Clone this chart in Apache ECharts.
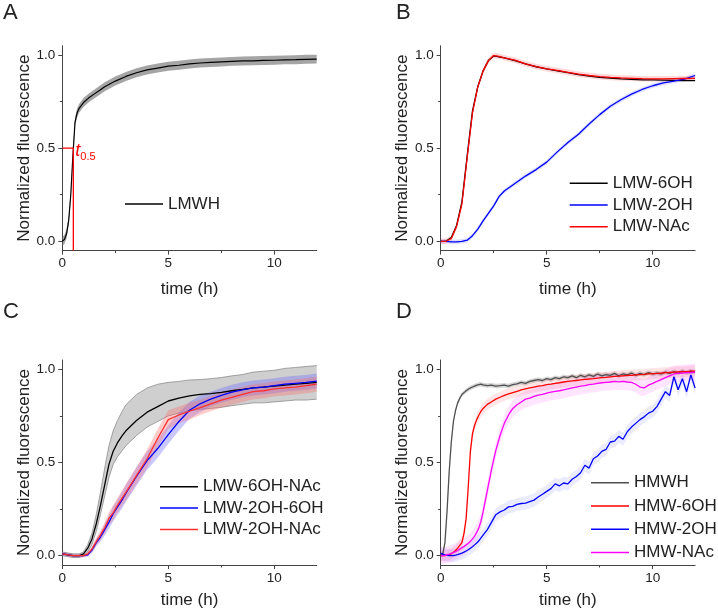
<!DOCTYPE html>
<html><head><meta charset="utf-8">
<script src="https://cdn.jsdelivr.net/npm/echarts@6/dist/echarts.min.js"></script>
<style>html,body{margin:0;padding:0;background:#fff}#c{width:718px;height:612px}</style>
</head><body><div id="c"></div>
<script>
// ---------- axes ----------
const xRange = [0, 12];
const yRange = [-0.05, 1.05];
const xTicks = [0, 5, 10];
const xMinor = [2.5, 7.5];
const yTicks = [0, 0.5, 1];
const yMinor = [0.25, 0.75];
const panelLetters = ['A', 'B', 'C', 'D'];
const xName = 'time (h)';
const yName = 'Normalized fluorescence';

// ---------- panel A ----------
const tA = [0,0.1,0.2,0.3,0.4,0.5,0.6,0.7,0.8,1.0,1.25,1.5,1.75,2,2.5,3,3.5,4,4.5,5,5.5,6,6.5,7,7.5,8,8.5,9,9.5,10,10.5,11,11.5,12];
const lmwh = [0,0.01,0.04,0.11,0.25,0.46,0.64,0.69,0.715,0.745,0.77,0.79,0.81,0.83,0.86,0.885,0.905,0.92,0.93,0.94,0.945,0.952,0.957,0.96,0.963,0.966,0.968,0.969,0.971,0.972,0.974,0.975,0.977,0.978];
const lmwhErr = 0.024;
const t05 = 0.52;
const t05Line = [[0, 0.5], [t05, 0.5], [t05, -0.05]];

// ---------- panel B ----------
const tB = [0,0.25,0.5,0.75,1,1.25,1.5,1.75,2,2.25,2.5,2.75,3,3.5,4,4.5,5,5.5,6,6.5,7,7.5,8,8.5,9,9.5,10,10.5,11,11.5,12];
const lmw6OH = [0,0,0.02,0.085,0.21,0.46,0.7,0.83,0.915,0.97,0.995,0.99,0.985,0.97,0.952,0.937,0.925,0.915,0.905,0.895,0.887,0.88,0.876,0.872,0.869,0.867,0.866,0.865,0.864,0.862,0.862];
const lmw2OH = [0,0,-0.003,-0.003,0,0.006,0.03,0.065,0.11,0.15,0.19,0.24,0.27,0.31,0.35,0.385,0.425,0.48,0.53,0.575,0.63,0.68,0.725,0.76,0.79,0.815,0.835,0.85,0.86,0.87,0.89];
const lmwNAc = [0,0,0.015,0.08,0.2,0.45,0.69,0.83,0.915,0.97,0.997,0.993,0.985,0.972,0.953,0.938,0.926,0.917,0.907,0.897,0.89,0.884,0.88,0.877,0.875,0.873,0.872,0.872,0.873,0.874,0.875];
const lmw2OHErr = 0.012;
const lmwNAcErr = 0.015;

// ---------- panel C ----------
const tC = [0,0.5,0.8,1.0,1.2,1.4,1.6,1.8,2.0,2.2,2.4,2.6,2.8,3.0,3.5,4.0,4.5,5.0,5.5,6.0,6.5,7.0,7.5,8,8.5,9,9.5,10,10.5,11,11.5,12];
const lmw6OHNAc = [0.01,0,0,0.01,0.04,0.09,0.17,0.27,0.38,0.49,0.56,0.605,0.64,0.67,0.725,0.77,0.8,0.83,0.845,0.858,0.865,0.87,0.876,0.885,0.892,0.9,0.905,0.91,0.915,0.92,0.925,0.93];
const lmw6OHNAcErrHi = [0.01,0.01,0.01,0.01,0.02,0.03,0.05,0.07,0.09,0.1,0.11,0.12,0.13,0.14,0.14,0.13,0.12,0.1,0.09,0.085,0.08,0.08,0.08,0.08,0.08,0.085,0.085,0.085,0.09,0.09,0.09,0.09];
const lmw6OHNAcErrLo = [0.01,0.01,0.01,0.01,0.02,0.03,0.04,0.05,0.06,0.07,0.07,0.075,0.08,0.08,0.08,0.08,0.08,0.08,0.08,0.08,0.08,0.08,0.08,0.08,0.08,0.08,0.085,0.085,0.085,0.085,0.09,0.09];
const lmw2OH6OH = [0.01,0,0,0,0.005,0.03,0.07,0.1,0.14,0.18,0.225,0.26,0.295,0.335,0.425,0.51,0.575,0.65,0.72,0.78,0.815,0.84,0.86,0.877,0.89,0.9,0.905,0.912,0.92,0.925,0.93,0.937];
const lmw2OHNAc = [0.01,0,0,0,0.01,0.035,0.075,0.11,0.15,0.2,0.23,0.27,0.305,0.34,0.43,0.52,0.63,0.73,0.755,0.775,0.795,0.815,0.835,0.85,0.865,0.88,0.885,0.895,0.9,0.905,0.912,0.92];
const lmw2OH6OHErr = [0.008,0.008,0.008,0.008,0.01,0.015,0.02,0.025,0.03,0.035,0.04,0.04,0.045,0.045,0.05,0.05,0.05,0.05,0.05,0.045,0.045,0.04,0.04,0.04,0.04,0.04,0.04,0.04,0.04,0.04,0.04,0.04];
const lmw2OHNAcErr = [0.008,0.008,0.008,0.008,0.01,0.015,0.02,0.025,0.03,0.035,0.04,0.04,0.04,0.045,0.045,0.05,0.05,0.05,0.045,0.045,0.04,0.04,0.04,0.04,0.04,0.04,0.04,0.04,0.04,0.04,0.04,0.04];

// ---------- panel D ----------
const tD = [0,0.1,0.2,0.3,0.4,0.5,0.6,0.7,0.8,0.9,1.0,1.1,1.2,1.3,1.4,1.5,1.6,1.7,1.8,1.9,2.0,2.2,2.4,2.6,2.8,3.0,3.2,3.4,3.6,3.8,4.0,4.2,4.4,4.6,4.8,5.0,5.2,5.4,5.6,5.8,6.0,6.2,6.4,6.6,6.8,7.0,7.2,7.4,7.6,7.8,8.0,8.2,8.4,8.6,8.8,9.0,9.2,9.4,9.6,9.8,10.0,10.2,10.4,10.6,10.8,11.0,11.2,11.4,11.6,11.8,12.0];
const hmwh = [0.0,0.01,0.07,0.24,0.45,0.61,0.72,0.78,0.82,0.845,0.865,0.875,0.885,0.893,0.9,0.905,0.91,0.915,0.918,0.92,0.916,
  0.913,0.915,0.91,0.912,0.915,0.91,0.918,0.922,0.93,0.925,
  0.935,0.94,0.945,0.94,0.95,0.945,0.955,0.95,0.96,0.955,
  0.965,0.955,0.968,0.96,0.97,0.962,0.975,0.965,0.972,0.968,
  0.978,0.965,0.975,0.97,0.98,0.968,0.978,0.972,0.982,0.975,
  0.98,0.975,0.985,0.978,0.988,0.98,0.99,0.982,0.99,0.985];
const hmw6OH = [0.0,0.0,0.0,0.003,0.006,0.01,0.018,0.028,0.04,0.055,0.07,0.12,0.2,0.37,0.56,0.655,0.7,0.73,0.755,0.775,0.79,
  0.812,0.826,0.84,0.85,0.86,0.868,0.875,0.882,0.89,0.895,
  0.9,0.905,0.91,0.913,0.918,0.92,0.925,0.928,0.932,0.935,
  0.938,0.94,0.943,0.946,0.948,0.95,0.953,0.955,0.957,0.96,
  0.962,0.963,0.965,0.967,0.968,0.97,0.972,0.973,0.975,0.977,
  0.978,0.98,0.982,0.983,0.985,0.986,0.987,0.988,0.99,0.99];
const hmw2OH = [0.012,0.008,0.004,0.002,0.0,0.0,0.001,0.003,0.006,0.01,0.014,0.019,0.025,0.032,0.04,0.048,0.058,0.068,0.08,0.095,0.11,
  0.14,0.18,0.22,0.235,0.245,0.262,0.265,0.275,0.28,0.282,
  0.29,0.298,0.315,0.33,0.345,0.36,0.385,0.375,0.39,0.385,
  0.41,0.425,0.445,0.485,0.47,0.52,0.535,0.56,0.57,0.61,
  0.615,0.64,0.625,0.665,0.69,0.71,0.73,0.745,0.765,0.775,
  0.8,0.84,0.88,0.86,0.96,0.89,0.95,0.88,0.97,0.9];
const hmwNAc = [0.0,0.0,0.002,0.005,0.008,0.012,0.017,0.022,0.028,0.035,0.042,0.05,0.058,0.067,0.077,0.09,0.105,0.125,0.15,0.185,0.235,
  0.35,0.465,0.565,0.645,0.71,0.755,0.79,0.81,0.825,0.84,
  0.845,0.855,0.862,0.865,0.872,0.878,0.882,0.885,0.89,0.895,
  0.9,0.905,0.91,0.912,0.918,0.92,0.925,0.928,0.93,0.932,
  0.935,0.933,0.935,0.932,0.93,0.92,0.905,0.9,0.915,0.925,
  0.935,0.945,0.955,0.965,0.975,0.978,0.98,0.982,0.983,0.985];
const hmwhErr = 0.012, hmw6OHErr = 0.03, hmw2OHErr = 0.035, hmwNAcErr = 0.045;

// ---------- layout / style ----------
const FONT = '"Liberation Sans", Arial, Helvetica, sans-serif';
const AX = '#444';
const TXT = '#222';
const grids = [
  {left: 62.3, top: 45.7, width: 254.4, height: 204.9},
  {left: 440.7, top: 45.7, width: 254.4, height: 204.9},
  {left: 62.3, top: 360, width: 254.4, height: 205},
  {left: 440.7, top: 360, width: 254.4, height: 205}
];
const nameGapsX = [30, 30, 27, 27];
const letterPos = [[3, 2], [396, 2], [3, 301], [396, 301]];

const xAxis = [], yAxis = [];
grids.forEach((g, i) => {
  xAxis.push({type: 'value', gridIndex: i, position: 'bottom', min: xRange[0], max: xRange[1],
    name: xName, nameLocation: 'middle', nameGap: nameGapsX[i],
    nameTextStyle: {fontSize: 17, color: TXT, fontFamily: FONT},
    axisLine: {show: true, onZero: false, lineStyle: {color: AX, width: 1}},
    axisTick: {show: true, inside: false, length: 4, customValues: xTicks, lineStyle: {color: AX, width: 1}},
    axisLabel: {show: true, customValues: xTicks, fontSize: 13.5, color: TXT, margin: 6, fontFamily: FONT},
    splitLine: {show: false}});
  xAxis.push({type: 'value', gridIndex: i, position: 'bottom', min: xRange[0], max: xRange[1],
    axisLine: {show: false, onZero: false},
    axisTick: {show: true, inside: false, length: 2.5, customValues: xMinor, lineStyle: {color: AX, width: 1}},
    axisLabel: {show: false}, splitLine: {show: false}});
  yAxis.push({type: 'value', gridIndex: i, position: 'left', min: yRange[0], max: yRange[1],
    name: yName, nameLocation: 'middle', nameGap: 29, nameRotate: 90,
    nameTextStyle: {fontSize: 17, color: TXT, fontFamily: FONT},
    axisLine: {show: true, onZero: false, lineStyle: {color: AX, width: 1}},
    axisTick: {show: true, inside: false, length: 4, customValues: yTicks, lineStyle: {color: AX, width: 1}},
    axisLabel: {show: true, customValues: yTicks, fontSize: 13.5, color: TXT, margin: 7, fontFamily: FONT,
      formatter: v => Number(v).toFixed(1)},
    splitLine: {show: false}});
  yAxis.push({type: 'value', gridIndex: i, position: 'left', min: yRange[0], max: yRange[1],
    axisLine: {show: false, onZero: false},
    axisTick: {show: true, inside: false, length: 2.5, customValues: yMinor, lineStyle: {color: AX, width: 1}},
    axisLabel: {show: false}, splitLine: {show: false}});
});

function pairs(t, v) { return t.map((x, i) => [x, v[i]]); }
function line(name, g, t, v, color, width) {
  return {type: 'line', name: name, xAxisIndex: 2 * g, yAxisIndex: 2 * g, data: pairs(t, v),
    symbol: 'none', showSymbol: false, lineStyle: {color: color, width: width || 1.3},
    itemStyle: {color: color}, z: 3, silent: true};
}
// error band: one polygon through the library's coordinate mapping (api.coord)
function band(id, g, t, v, eHi, eLo, color, edge) {
  const hiE = Array.isArray(eHi) ? eHi : t.map(() => eHi);
  const loE = Array.isArray(eLo) ? eLo : t.map(() => eLo);
  const rows = t.map((x, i) => [x, v[i] - loE[i], v[i] + hiE[i]]);
  return [{
    type: 'custom', name: id, xAxisIndex: 2 * g, yAxisIndex: 2 * g, silent: true, z: 1, clip: true,
    data: rows, encode: {x: 0, y: [1, 2]},
    renderItem: function (params, api) {
      if (params.dataIndex !== 0) return null;
      const upper = rows.map(r => api.coord([r[0], r[2]]));
      const lower = rows.map(r => api.coord([r[0], r[1]]));
      const poly = upper.concat(lower.slice().reverse());
      const children = [{type: 'polygon', shape: {points: poly}, style: {fill: color, stroke: null}}];
      if (edge) {
        children.push({type: 'polyline', shape: {points: upper}, style: {stroke: edge, lineWidth: 0.8, fill: null}});
        children.push({type: 'polyline', shape: {points: lower}, style: {stroke: edge, lineWidth: 0.8, fill: null}});
      }
      return {type: 'group', children: children};
    }
  }];
}

const series = [].concat(
  // A
  band('bandA', 0, tA, lmwh, lmwhErr, lmwhErr, 'rgba(105,105,105,0.6)'),
  [line('LMWH', 0, tA, lmwh, '#000000', 1.2)],
  [{type: 'line', name: 't05', xAxisIndex: 0, yAxisIndex: 0, silent: true, z: 4,
    symbol: 'circle', symbolSize: 0.1, showSymbol: true,
    lineStyle: {color: '#ff0000', width: 1.3}, itemStyle: {color: '#ff0000'},
    data: [t05Line[0], {value: t05Line[1], label: {show: true, position: 'right', distance: 2, offset: [0, 3],
      formatter: '{t|t}{s|0.5}',
      rich: {t: {fontSize: 18, fontStyle: 'italic', color: '#ff0000', fontFamily: FONT},
             s: {fontSize: 11, color: '#ff0000', fontFamily: FONT, padding: [12, 0, 0, 0]}}}}, t05Line[2]]}],
  // B
  band('bandB2', 1, tB, lmw2OH, lmw2OHErr, lmw2OHErr, 'rgba(80,80,255,0.18)'),
  band('bandBN', 1, tB, lmwNAc, lmwNAcErr, lmwNAcErr, 'rgba(255,80,80,0.22)'),
  [line('LMW-6OH', 1, tB, lmw6OH, '#000000'),
   line('LMW-2OH', 1, tB, lmw2OH, '#0000ff'),
   line('LMW-NAc', 1, tB, lmwNAc, '#ff0000')],
  // C
  band('bandCK', 2, tC, lmw6OHNAc, lmw6OHNAcErrHi, lmw6OHNAcErrLo, 'rgba(175,175,175,0.6)', 'rgba(120,120,120,0.8)'),
  band('bandCB', 2, tC, lmw2OH6OH, lmw2OH6OHErr, lmw2OH6OHErr, 'rgba(100,100,255,0.35)'),
  band('bandCR', 2, tC, lmw2OHNAc, lmw2OHNAcErr, lmw2OHNAcErr, 'rgba(255,100,100,0.33)'),
  [line('LMW-6OH-NAc', 2, tC, lmw6OHNAc, '#000000'),
   line('LMW-2OH-6OH', 2, tC, lmw2OH6OH, '#0000ff'),
   line('LMW-2OH-NAc', 2, tC, lmw2OHNAc, '#ff3030')],
  // D
  band('bandDK', 3, tD, hmwh, hmwhErr, hmwhErr, 'rgba(120,120,120,0.3)'),
  band('bandDR', 3, tD, hmw6OH, hmw6OHErr, hmw6OHErr, 'rgba(255,0,0,0.1)'),
  band('bandDB', 3, tD, hmw2OH, hmw2OHErr, hmw2OHErr, 'rgba(0,0,255,0.08)'),
  band('bandDM', 3, tD, hmwNAc, hmwNAcErr, hmwNAcErr, 'rgba(255,0,255,0.1)'),
  [line('HMWH', 3, tD, hmwh, '#505050'),
   line('HMW-6OH', 3, tD, hmw6OH, '#ff0000'),
   line('HMW-2OH', 3, tD, hmw2OH, '#0000ff'),
   line('HMW-NAc', 3, tD, hmwNAc, '#ff00ff')]
);

function legend(names, left, top, gap) {
  return {data: names, left: left, top: top, orient: 'vertical', itemGap: gap, padding: 0,
    icon: 'rect', itemWidth: 38, itemHeight: 1.5, selectedMode: false,
    textStyle: {fontSize: 17, lineHeight: 17, color: TXT, fontFamily: FONT}};
}

const option = {
  animation: false,
  backgroundColor: '#ffffff',
  textStyle: {fontFamily: FONT},
  grid: grids.map(g => Object.assign({containLabel: false, outerBoundsMode: 'none'}, g)),
  xAxis: xAxis,
  yAxis: yAxis,
  legend: [
    legend(['LMWH'], 125, 195.5, 5),
    legend(['LMW-6OH', 'LMW-2OH', 'LMW-NAc'], 569.7, 174.8, 4.7),
    legend(['LMW-6OH-NAc', 'LMW-2OH-6OH', 'LMW-2OH-NAc'], 160, 478.2, 4.4),
    legend(['HMWH', 'HMW-6OH', 'HMW-2OH', 'HMW-NAc'], 591, 474.2, 6.3)
  ],
  graphic: panelLetters.map((L, i) => ({type: 'text', left: letterPos[i][0], top: letterPos[i][1],
    style: {text: L, fontSize: 22, fill: TXT, fontFamily: FONT}})),
  series: series
};
const chart = echarts.init(document.getElementById('c'), null, {renderer: 'canvas'});
chart.setOption(option);
</script>
</body></html>
